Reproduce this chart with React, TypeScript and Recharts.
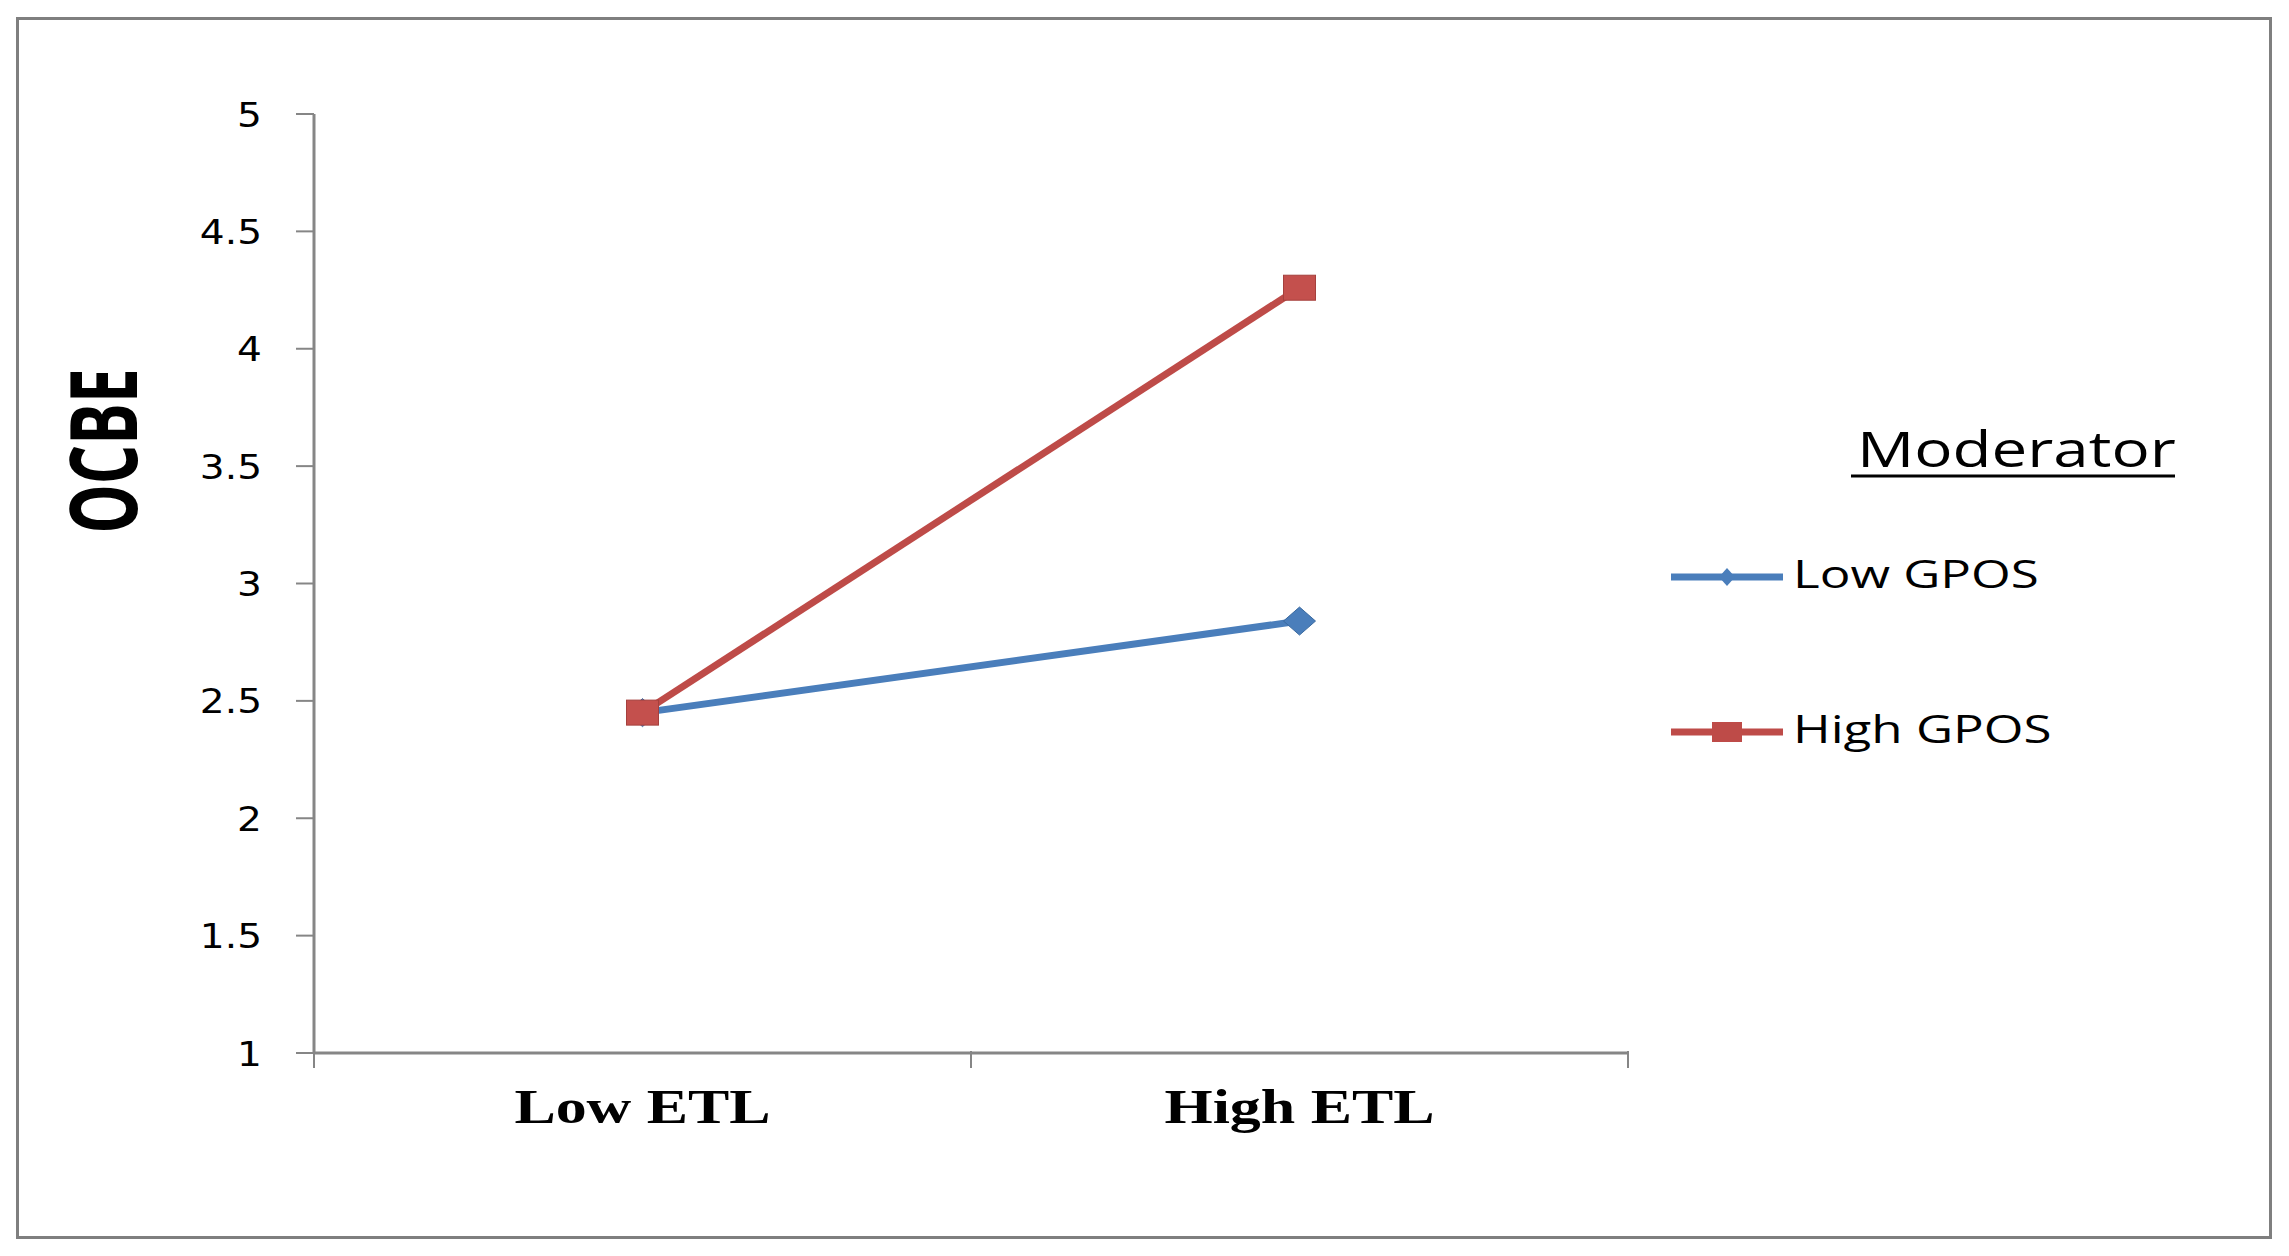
import React from 'react';
import { LineChart, Line, XAxis, YAxis, Legend } from 'recharts';

const categories = ['Low ETL', 'High ETL'];
const lowGPOS = [2.45, 2.84];
const highGPOS = [2.45, 4.26];
const seriesNames = ['Low GPOS', 'High GPOS'];
const seriesColors = ['#4A7EBB', '#BE4B48'];
const yTicks = [1, 1.5, 2, 2.5, 3, 3.5, 4, 4.5, 5];
const categoryBoundaries = [0, 1, 2];
const legendTitle = 'Moderator';
const yLabel = 'OCBE';

const data = categories.map((c, i) => ({
  pos: i + 0.5,
  name: c,
  low: lowGPOS[i],
  high: highGPOS[i],
}));
const xTicks = [...categoryBoundaries, ...categories.map((_, i) => i + 0.5)].sort((a, b) => a - b);

const AXIS_GRAY = '#868686';

const XTick = (props: any) => {
  const { x, y, payload } = props;
  const v = payload.value as number;
  if (Number.isInteger(v)) {
    return <line x1={x} x2={x} y1={y - 2} y2={y + 15} stroke={AXIS_GRAY} strokeWidth={2} />;
  }
  const idx = Math.floor(v);
  return (
    <text
      transform={`translate(${x},${y + 70}) scale(1.29,1)`}
      textAnchor="middle"
      fontFamily="'Liberation Serif', 'Times New Roman', serif"
      fontWeight="bold"
      fontSize={48}
      fill="#000"
    >
      {categories[idx]}
    </text>
  );
};

const YTick = (props: any) => {
  const { x, y, payload } = props;
  return (
    <text
      transform={`translate(${x},${y + 12.5}) scale(1.15,1)`}
      textAnchor="end"
      fontFamily="'DejaVu Sans', sans-serif"
      fontSize={34}
      fill="#000"
    >
      {payload.value}
    </text>
  );
};

const YLabel = () => (
  <text
    transform={`translate(137,451) rotate(-90) scale(1,1.5)`}
    textAnchor="middle"
    fontFamily="'Open Sans', sans-serif"
    fontWeight="bold"
    fontSize={62}
    fill="#000"
  >
    {yLabel}
  </text>
);

const DiamondDot = (props: any) => {
  const { cx, cy, index } = props;
  if (cx == null || cy == null) return <g key={`d${index}`} />;
  return (
    <polygon
      key={`d${index}`}
      points={`${cx - 16},${cy} ${cx},${cy - 14} ${cx + 16},${cy} ${cx},${cy + 14}`}
      fill={seriesColors[0]}
      stroke="#3A6AA0"
      strokeWidth={1}
    />
  );
};

const SquareDot = (props: any) => {
  const { cx, cy, index } = props;
  if (cx == null || cy == null) return <g key={`s${index}`} />;
  return (
    <rect
      key={`s${index}`}
      x={cx - 16}
      y={cy - 12.5}
      width={32}
      height={25}
      fill="#C4504D"
      stroke="#A5403D"
      strokeWidth={1}
    />
  );
};

const LegendContent = (props: any) => {
  const payload: any[] = props.payload || [];
  const items = seriesNames.map((n, i) => {
    const found = payload.find((p: any) => p.value === n);
    return { value: n, color: (found && found.color) || seriesColors[i] };
  });
  const rows = [177, 332];
  return (
    <svg width={620} height={380} style={{ display: 'block' }}>
      <text
        transform={`translate(197,67) scale(1.3,1)`}
        fontFamily="'Open Sans', sans-serif"
        fontSize={49}
        fill="#000"
      >
        {legendTitle}
      </text>
      <line x1={191} x2={515} y1={76} y2={76} stroke="#000" strokeWidth={3} />
      {items.map((p, i) => {
        const cy = rows[i];
        return (
          <g key={i}>
            <line x1={11} x2={123} y1={cy} y2={cy} stroke={p.color} strokeWidth={7} />
            {i === 0 ? (
              <polygon points={`${67 - 8},${cy} ${67},${cy - 9} ${67 + 8},${cy} ${67},${cy + 9}`} fill={p.color} />
            ) : (
              <rect x={67 - 15} y={cy - 10} width={30} height={20} fill={p.color} />
            )}
            <text
              transform={`translate(133,${cy + 11}) scale(1.31,1)`}
              fontFamily="'Open Sans', sans-serif"
              fontSize={39}
              fill="#000"
            >
              {p.value}
            </text>
          </g>
        );
      })}
    </svg>
  );
};

export default function App() {
  return (
    <div style={{ position: 'absolute', left: 0, top: 0, width: 2289, height: 1256, background: '#fff' }}>
      <div
        style={{
          position: 'absolute',
          left: 16,
          top: 17,
          width: 2250,
          height: 1216,
          border: '3px solid #7f7f7f',
          boxSizing: 'content-box',
        }}
      />
      <LineChart
        width={2289}
        height={1256}
        data={data}
        margin={{ top: 114, right: 661, bottom: 103, left: 194 }}
      >
        <XAxis
          dataKey="pos"
          type="number"
          domain={[0, 2]}
          ticks={xTicks}
          interval={0}
          height={100}
          tickLine={false}
          tickSize={0}
          tickMargin={0}
          axisLine={{ stroke: AXIS_GRAY, strokeWidth: 3 }}
          tick={XTick}
        />
        <YAxis
          type="number"
          domain={[1, 5]}
          ticks={yTicks}
          interval={0}
          width={120}
          tickSize={18}
          tickMargin={34}
          tickLine={{ stroke: AXIS_GRAY, strokeWidth: 2 }}
          axisLine={{ stroke: AXIS_GRAY, strokeWidth: 3 }}
          tick={YTick}
          label={{ content: YLabel }}
        />
        <Legend
          layout="horizontal"
          verticalAlign="middle"
          align="center"
          wrapperStyle={{ left: 1660, top: 400, width: 620, height: 380 }}
          content={LegendContent}
        />
        <Line
          dataKey="low"
          name={seriesNames[0]}
          stroke={seriesColors[0]}
          strokeWidth={7}
          dot={DiamondDot}
          activeDot={false}
          isAnimationActive={false}
        />
        <Line
          dataKey="high"
          name={seriesNames[1]}
          stroke={seriesColors[1]}
          strokeWidth={7}
          dot={SquareDot}
          activeDot={false}
          isAnimationActive={false}
        />
      </LineChart>
    </div>
  );
}
